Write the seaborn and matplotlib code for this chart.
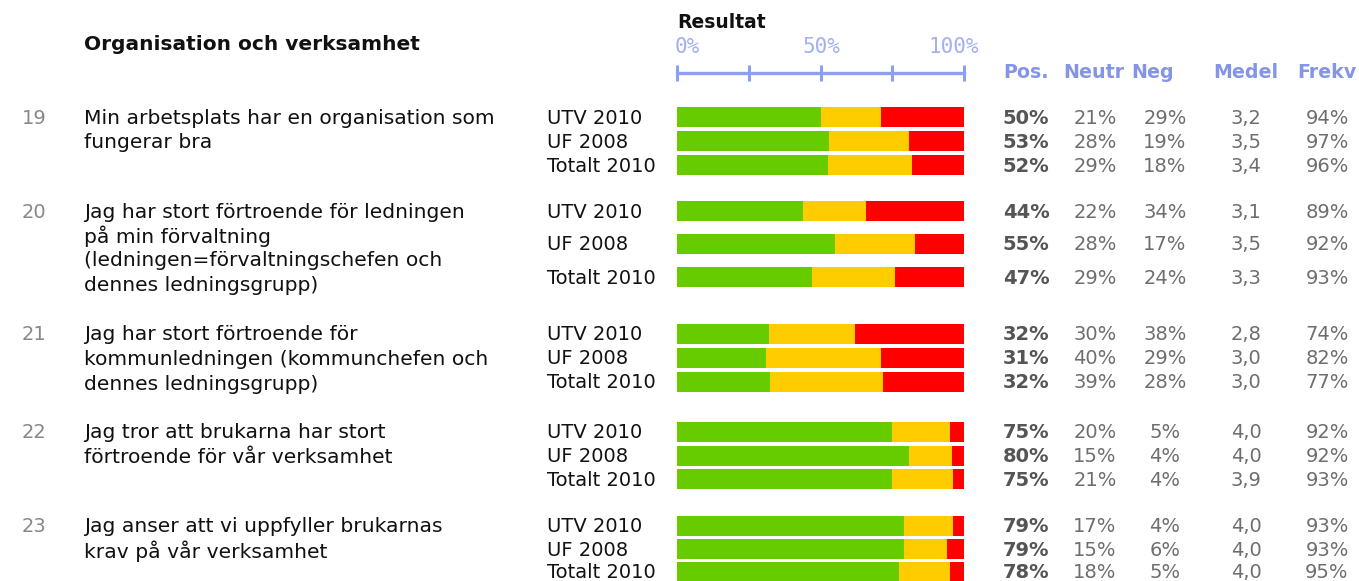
import seaborn as sns
import pandas as pd
import numpy as np
import matplotlib
matplotlib.use("Agg")
import matplotlib.pyplot as plt

sns.set_style("white")
plt.rcParams["font.family"] = ["DejaVu Sans"]

# --- data ---
q_nums = ["19", "20", "21", "22", "23"]
q_texts = [
    "Min arbetsplats har en organisation som\nfungerar bra",
    "Jag har stort förtroende för ledningen\npå min förvaltning\n(ledningen=förvaltningschefen och\ndennes ledningsgrupp)",
    "Jag har stort förtroende för\nkommunledningen (kommunchefen och\ndennes ledningsgrupp)",
    "Jag tror att brukarna har stort\nförtroende för vår verksamhet",
    "Jag anser att vi uppfyller brukarnas\nkrav på vår verksamhet",
]
groups = ["UTV 2010", "UF 2008", "Totalt 2010"]
pos = [[50, 53, 52], [44, 55, 47], [32, 31, 32], [75, 80, 75], [79, 79, 78]]
neutr = [[21, 28, 29], [22, 28, 29], [30, 40, 39], [20, 15, 21], [17, 15, 18]]
neg = [[29, 19, 18], [34, 17, 24], [38, 29, 28], [5, 4, 4], [4, 6, 5]]
medel = [[3.2, 3.5, 3.4], [3.1, 3.5, 3.3], [2.8, 3.0, 3.0], [4.0, 4.0, 3.9], [4.0, 4.0, 4.0]]
frekv = [[94, 97, 96], [89, 92, 93], [74, 82, 77], [92, 92, 93], [93, 93, 95]]

# --- layout (pixels from the top of the figure) ---
W, H = 1359, 581
group_top = [117, 211, 334, 432, 526]
row_step = [24, 33, 24, 23.5, 23]
line_step = 24.5
bar_px = 20
bar_left, bar_right, ruler_y = 677, 964, 73

GREEN, YELLOW, RED = "#66cc00", "#ffcc00", "#ff0000"
BLUE = "#8595e6"
RULER = "#8e9ef2"

rows = []
for gi in range(len(q_nums)):
    for ri, g in enumerate(groups):
        p, n, m = pos[gi][ri], neutr[gi][ri], neg[gi][ri]
        tot = p + n + m
        rows.append({
            "y": group_top[gi] + ri * row_step[gi],
            "grp": gi, "label": g,
            "pos_end": p / tot * 100,
            "neu_end": (p + n) / tot * 100,
            "neg_end": 100.0,
            "pos": p, "neutr": n, "neg": m,
            "medel": medel[gi][ri], "frekv": frekv[gi][ri],
        })
df = pd.DataFrame(rows)

fig = plt.figure(figsize=(W / 100, H / 100), dpi=100)

# overlay axes in pixel coordinates for all the table text
tax = fig.add_axes([0, 0, 1, 1])
tax.set_xlim(0, W)
tax.set_ylim(H, 0)
tax.axis("off")

# bar axes: top spine works as the 0-100% ruler
bax = fig.add_axes([bar_left / W, 0, (bar_right - bar_left) / W, (H - ruler_y) / H])
bax.patch.set_alpha(0)

min_gap = np.min(np.diff(np.unique(df["y"])))
w = bar_px / min_gap
for col, c in [("neg_end", RED), ("neu_end", YELLOW), ("pos_end", GREEN)]:
    sns.barplot(data=df, x=col, y="y", orient="y", native_scale=True,
                color=c, saturation=1, width=w, errorbar=None,
                linewidth=0, ax=bax)

bax.set_xlim(0, 100)
bax.set_ylim(H, ruler_y)
bax.set(xlabel="", ylabel="")
for s in ["left", "right", "bottom"]:
    bax.spines[s].set_visible(False)
bax.spines["top"].set_color(RULER)
bax.spines["top"].set_linewidth(2.4)
bax.set_yticks([])
bax.xaxis.tick_top()
bax.set_xticks([0, 25, 50, 75, 100])
bax.set_xticklabels([])
bax.tick_params(axis="x", direction="inout", length=12, width=2.2, color=RULER, top=True, bottom=False)
bax.grid(False)

# header texts
tax.text(84, 45, "Organisation och verksamhet", fontsize=14.5, fontweight="bold", color="#111111", va="center")
tax.text(677, 22, "Resultat", fontsize=13.5, fontweight="bold", color="#111111", va="center")
mono = dict(family="DejaVu Sans Mono", fontsize=15, color="#a3b0f2", va="center")
tax.text(675, 47, "0%", ha="left", **mono)
tax.text(803, 47, "50%", ha="left", **mono)
tax.text(979, 47, "100%", ha="right", **mono)

head_x = [1003, 1063, 1131, 1213, 1297]
head_lab = ["Pos.", "Neutr", "Neg", "Medel", "Frekv"]
for x, t in zip(head_x, head_lab):
    tax.text(x, 72, t, fontsize=13.7, fontweight="bold", color=BLUE, va="center", ha="left")

# question numbers and texts
for gi in range(len(q_nums)):
    y0 = group_top[gi] + 1
    tax.text(22, y0, q_nums[gi], fontsize=14, color="#888888", va="center")
    for li, line in enumerate(q_texts[gi].split("\n")):
        tax.text(84, y0 + li * line_step, line, fontsize=14.6, color="#111111", va="center")

# row labels and value columns
val = dict(fontsize=14, va="center", ha="center")
for _, r in df.iterrows():
    y = r["y"] + 1
    tax.text(547, y, r["label"], fontsize=14, color="#111111", va="center")
    tax.text(1026, y, f"{r['pos']}%", fontweight="bold", color="#555555", **val)
    tax.text(1095, y, f"{r['neutr']}%", color="#6e6e6e", **val)
    tax.text(1165, y, f"{r['neg']}%", color="#6e6e6e", **val)
    tax.text(1246, y, f"{r['medel']:.1f}".replace(".", ","), color="#6e6e6e", **val)
    tax.text(1327, y, f"{r['frekv']}%", color="#6e6e6e", **val)

plt.savefig("out.png", dpi=100)
